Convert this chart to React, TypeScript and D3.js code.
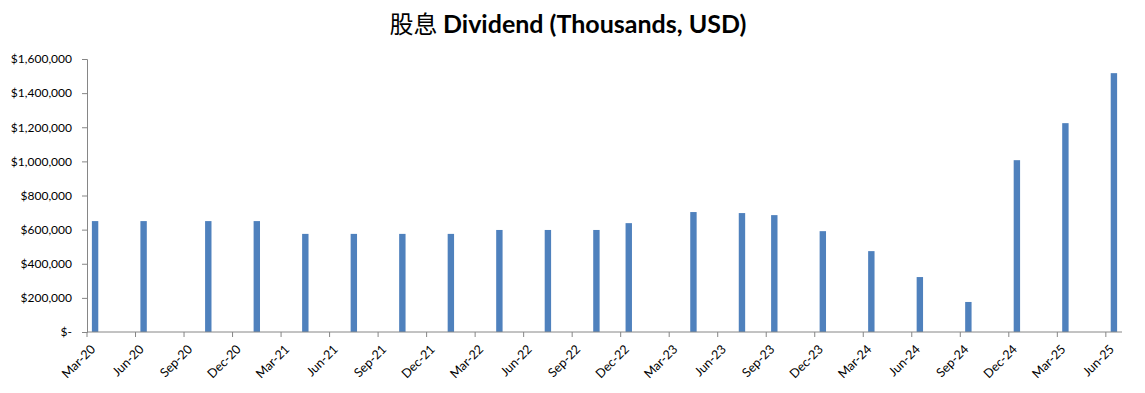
import { useEffect, useRef } from "react"
import * as d3 from "d3"

// pay month of each dividend (YYYY-MM) and amount in thousands USD
const payMonths = [
  "2020-03", "2020-06", "2020-10", "2021-01", "2021-04", "2021-07", "2021-10", "2022-01",
  "2022-04", "2022-07", "2022-10", "2022-12", "2023-04", "2023-07", "2023-09", "2023-12",
  "2024-03", "2024-06", "2024-09", "2024-12", "2025-03", "2025-06",
]
const dividends = [
  650000, 650000, 650000, 650000, 575000, 575000, 575000, 575000,
  598000, 598000, 598000, 638000, 703000, 697000, 685000, 591000,
  474000, 322000, 176000, 1007000, 1224000, 1517000,
]

const tickLabels = [
  "Mar-20", "Jun-20", "Sep-20", "Dec-20", "Mar-21", "Jun-21", "Sep-21", "Dec-21",
  "Mar-22", "Jun-22", "Sep-22", "Dec-22", "Mar-23", "Jun-23", "Sep-23", "Dec-23",
  "Mar-24", "Jun-24", "Sep-24", "Dec-24", "Mar-25", "Jun-25",
]
const yTicks = [0, 200000, 400000, 600000, 800000, 1000000, 1200000, 1400000, 1600000]

const W = 1145
const H = 393

export default function App() {
  const svgRef = useRef<SVGSVGElement>(null)

  useEffect(() => {
    if (!svgRef.current) return
    const svg = d3.select(svgRef.current)
    svg.selectAll("*").remove()

    const margin = { top: 59, right: 23, bottom: 61, left: 87 }
    const plotW = W - margin.left - margin.right
    const plotH = H - margin.top - margin.bottom
    const axisColor = "#868686"
    const font = "Lato, 'Open Sans', sans-serif"

    const parseMonth = d3.timeParse("%Y-%m")
    const keyFmt = d3.timeFormat("%Y-%m")
    const months = d3.timeMonth.range(new Date(2020, 2, 1), new Date(2025, 6, 1)).map(keyFmt)

    const x = d3.scaleBand<string>().domain(months).range([0, plotW]).padding(0)
    const y = d3.scaleLinear().domain([0, 1600000]).range([plotH, 0])

    const g = svg.append("g").attr("transform", `translate(${margin.left},${margin.top})`)

    // Title
    const title = svg
      .append("text")
      .attr("x", 568)
      .attr("y", 33)
      .attr("text-anchor", "middle")
      .attr("fill", "#000")
    title
      .append("tspan")
      .attr("font-family", "'Noto Sans CJK SC', sans-serif")
      .attr("font-size", 24)
      .text("股息 ")
    title
      .append("tspan")
      .attr("font-family", font)
      .attr("font-weight", "bold")
      .attr("font-size", 25)
      .text("Dividend (Thousands, USD)")

    // Bars
    const barW = 6.4
    const data = payMonths.map((m, i) => ({ key: keyFmt(parseMonth(m) as Date), value: dividends[i] }))
    g.selectAll(".bar")
      .data(data)
      .enter()
      .append("rect")
      .attr("class", "bar")
      .attr("x", d => (x(d.key) ?? 0) + (x.bandwidth() - barW) / 2)
      .attr("y", d => y(d.value))
      .attr("width", barW)
      .attr("height", d => plotH - y(d.value))
      .attr("fill", "#4F81BD")

    // Y axis
    const yAxis = g
      .append("g")
      .call(
        d3
          .axisLeft(y)
          .tickValues(yTicks)
          .tickSize(5)
          .tickPadding(10)
          .tickFormat(d => ((d as number) === 0 ? "$-" : "$" + d3.format(",")(d as number)))
      )
    yAxis.select(".domain").attr("stroke", axisColor)
    yAxis.selectAll(".tick line").attr("stroke", axisColor)
    yAxis
      .selectAll("text")
      .attr("font-family", font)
      .attr("font-size", 12)
      .attr("fill", "#000")

    // X axis: ticks at the start of each quarter month, labels centred in that month
    const quarterKeys = months.filter((_, i) => i % 3 === 0)
    const xAxis = g.append("g").attr("transform", `translate(0,${plotH})`)
    xAxis
      .append("line")
      .attr("x1", 0)
      .attr("x2", plotW)
      .attr("stroke", axisColor)
    xAxis
      .selectAll(".xtick")
      .data(quarterKeys)
      .enter()
      .append("line")
      .attr("x1", d => x(d) ?? 0)
      .attr("x2", d => x(d) ?? 0)
      .attr("y1", 0)
      .attr("y2", 5)
      .attr("stroke", axisColor)
    xAxis
      .selectAll(".xlabel")
      .data(quarterKeys)
      .enter()
      .append("text")
      .attr("transform", d => `translate(${(x(d) ?? 0) + x.bandwidth() / 2 + 1},${18}) rotate(-45)`)
      .attr("text-anchor", "end")
      .attr("font-family", font)
      .attr("font-size", 12.5)
      .attr("fill", "#000")
      .text((_, i) => tickLabels[i])
  }, [])

  return (
    <div style={{ width: W, height: H, marginLeft: -8, marginTop: -8, background: "#fff" }}>
      <svg ref={svgRef} width={W} height={H} />
    </div>
  )
}
